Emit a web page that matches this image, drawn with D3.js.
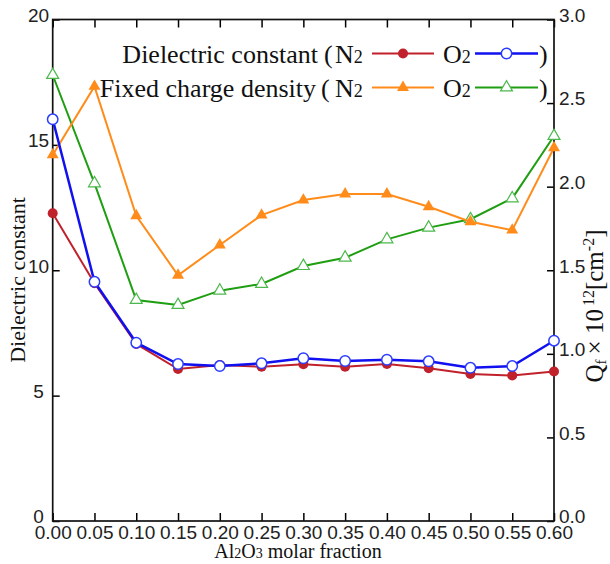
<!DOCTYPE html>
<html>
<head>
<meta charset="utf-8">
<script src="https://cdn.jsdelivr.net/npm/d3@7"></script>
<style>
  body { margin: 0; background: #fff; }
  svg { display: block; font-family: "Liberation Serif", "Times New Roman", serif; }
</style>
</head>
<body>
<div id="chart"></div>
<script>
// Al2O3 molar fraction
const fractions = [0.00, 0.05, 0.10, 0.15, 0.20, 0.25, 0.30, 0.35, 0.40, 0.45, 0.50, 0.55, 0.60];

// dielectric constant (left axis)
const kN2 = [12.27, 9.48, 7.06, 6.06, 6.22, 6.15, 6.25, 6.15, 6.26, 6.09, 5.86, 5.80, 5.96];
const kO2 = [16.02, 9.54, 7.11, 6.26, 6.18, 6.29, 6.49, 6.38, 6.43, 6.37, 6.11, 6.18, 7.19];

// fixed charge density, x10^12 cm^-2 (right axis)
const qfN2 = [2.19, 2.60, 1.826, 1.47, 1.651, 1.83, 1.92, 1.956, 1.956, 1.88, 1.79, 1.74, 2.233];
const qfO2 = [2.668, 2.02, 1.322, 1.292, 1.378, 1.418, 1.525, 1.575, 1.685, 1.755, 1.805, 1.93, 2.303];

const xTicks = fractions;
const leftTicks = [0, 5, 10, 15, 20];
const rightTicks = [0, 0.5, 1.0, 1.5, 2.0, 2.5, 3.0];

const width = 610, height = 564;
const margin = { top: 19.5, right: 56, bottom: 43, left: 52.7 };
const innerW = width - margin.left - margin.right;
const innerH = height - margin.top - margin.bottom;

const colors = {
  kN2: '#c0212b',
  kO2: '#1010f0',
  qfN2: '#ff8c1a',
  qfO2: '#1f9e12'
};

const svg = d3.select('#chart')
  .append('svg')
  .attr('width', width)
  .attr('height', height);

const g = svg.append('g')
  .attr('transform', `translate(${margin.left},${margin.top})`);

const x = d3.scaleLinear().domain([0, 0.6]).range([0, innerW]);
const yL = d3.scaleLinear().domain([0, 20]).range([innerH, 0]);
const yR = d3.scaleLinear().domain([0, 3]).range([innerH, 0]);

// axes, ticks point inward
const styleAxis = (sel) => {
  sel.select('.domain').remove();
  sel.selectAll('.tick line').attr('stroke', '#000').attr('stroke-width', 1.5);
  sel.selectAll('.tick text').attr('fill', '#222').attr('font-size', '19px');
};

g.append('g')
  .attr('transform', `translate(0,${innerH})`)
  .call(d3.axisBottom(x).tickValues(xTicks).tickFormat(d3.format('.2f')).tickSize(-8).tickPadding(5))
  .call(styleAxis);

g.append('g')
  .call(d3.axisTop(x).tickValues(xTicks).tickFormat('').tickSize(-8))
  .call(styleAxis);

g.append('g')
  .call(d3.axisLeft(yL).tickValues(leftTicks).tickFormat(d3.format('d')).tickSize(-7))
  .call(styleAxis)
  .call(a => a.selectAll('.tick text').attr('text-anchor', 'middle').attr('x', -14.2).attr('dy', '0.1em'));

g.append('g')
  .attr('transform', `translate(${innerW},0)`)
  .call(d3.axisRight(yR).tickValues(rightTicks).tickFormat(d3.format('.1f')).tickSize(-7).tickPadding(5))
  .call(styleAxis)
  .call(a => a.selectAll('.tick text').attr('dy', '0.1em'));

// frame
g.append('rect')
  .attr('width', innerW)
  .attr('height', innerH)
  .attr('fill', 'none')
  .attr('stroke', '#111')
  .attr('stroke-width', 1.7);

// series
const series = [
  { values: qfO2, y: yR, color: colors.qfO2, shape: 'tri', filled: false, lw: 2, markStroke: '#4cb84c' },
  { values: qfN2, y: yR, color: colors.qfN2, shape: 'tri', filled: true, lw: 2, markStroke: colors.qfN2 },
  { values: kN2, y: yL, color: colors.kN2, shape: 'circle', filled: true, lw: 2, markStroke: colors.kN2 },
  { values: kO2, y: yL, color: colors.kO2, shape: 'circle', filled: false, lw: 2.5, markStroke: '#2a3cff' }
];

const triangle = d3.symbol().type(d3.symbolTriangle).size(62);

function drawMarker(sel, s) {
  if (s.shape === 'circle') {
    sel.append('circle')
      .attr('r', s.filled ? 5 : 5.2)
      .attr('fill', s.filled ? s.color : '#fff')
      .attr('stroke', s.markStroke)
      .attr('stroke-width', s.filled ? 0 : 1.5);
  } else {
    sel.append('path')
      .attr('d', triangle)
      .attr('fill', s.filled ? s.color : '#fff')
      .attr('stroke', s.markStroke)
      .attr('stroke-width', s.filled ? 0 : 1.2);
  }
}

series.forEach(s => {
  const pts = fractions.map((f, i) => [f, s.values[i]]);
  const line = d3.line().x(d => x(d[0])).y(d => s.y(d[1]));
  g.append('path')
    .datum(pts)
    .attr('d', line)
    .attr('fill', 'none')
    .attr('stroke', s.color)
    .attr('stroke-width', s.lw);
  g.append('g')
    .selectAll('g')
    .data(pts)
    .join('g')
    .attr('transform', d => `translate(${x(d[0])},${s.y(d[1])})`)
    .each(function() { drawMarker(d3.select(this), s); });
});

// legend
const legendRows = [
  { label: 'Dielectric constant', end: 318, paren: 324, y: 62.5, a: series[2], b: series[3] },
  { label: 'Fixed charge density', end: 316, paren: 321, y: 96.5, a: series[1], b: series[0] }
];

const lg = svg.append('g').attr('font-size', '26px').attr('fill', '#111');

legendRows.forEach(r => {
  lg.append('text').attr('x', r.end).attr('y', r.y).attr('text-anchor', 'end').text(r.label);
  lg.append('text').attr('x', r.paren).attr('y', r.y).text('(');
  const n2 = lg.append('text').attr('x', 335).attr('y', r.y);
  n2.append('tspan').text('N');
  n2.append('tspan').attr('font-size', '18px').text('2');
  const o2 = lg.append('text').attr('x', 443).attr('y', r.y);
  o2.append('tspan').text('O');
  o2.append('tspan').attr('font-size', '18px').text('2');
  lg.append('text').attr('x', 539).attr('y', r.y).text(')');

  [[r.a, 372, 434], [r.b, 475, 538]].forEach(([s, x1, x2]) => {
    const cy = r.y - 9;
    lg.append('line')
      .attr('x1', x1).attr('x2', x2).attr('y1', cy).attr('y2', cy)
      .attr('stroke', s.color).attr('stroke-width', s.lw);
    const m = lg.append('g').attr('transform', `translate(${(x1 + x2) / 2},${cy})`);
    drawMarker(m, s);
  });
});

// axis titles
svg.append('text')
  .attr('transform', `translate(25,280) rotate(-90)`)
  .attr('text-anchor', 'middle')
  .attr('font-size', '22px')
  .attr('fill', '#111')
  .text('Dielectric constant');

const rt = svg.append('text')
  .attr('transform', `translate(603,306) rotate(-90)`)
  .attr('text-anchor', 'middle')
  .attr('font-size', '25px')
  .attr('fill', '#111');
rt.append('tspan').text('Q');
rt.append('tspan').attr('font-size', '15px').attr('dy', '3').text('f');
rt.append('tspan').attr('dy', '-3').attr('dx', '5').text('\u00d7 10');
rt.append('tspan').attr('font-size', '16px').attr('dy', '-9').attr('dx', '3').text('12');
rt.append('tspan').attr('dy', '9').text('[cm');
rt.append('tspan').attr('font-size', '16px').attr('dy', '-9').text('-2');
rt.append('tspan').attr('dy', '9').text(']');

const xt = svg.append('text')
  .attr('x', 298)
  .attr('y', 558)
  .attr('text-anchor', 'middle')
  .attr('font-size', '20px')
  .attr('fill', '#111');
xt.append('tspan').text('Al');
xt.append('tspan').attr('font-size', '14px').text('2');
xt.append('tspan').text('O');
xt.append('tspan').attr('font-size', '14px').text('3');
xt.append('tspan').text(' molar fraction');
</script>
</body>
</html>
